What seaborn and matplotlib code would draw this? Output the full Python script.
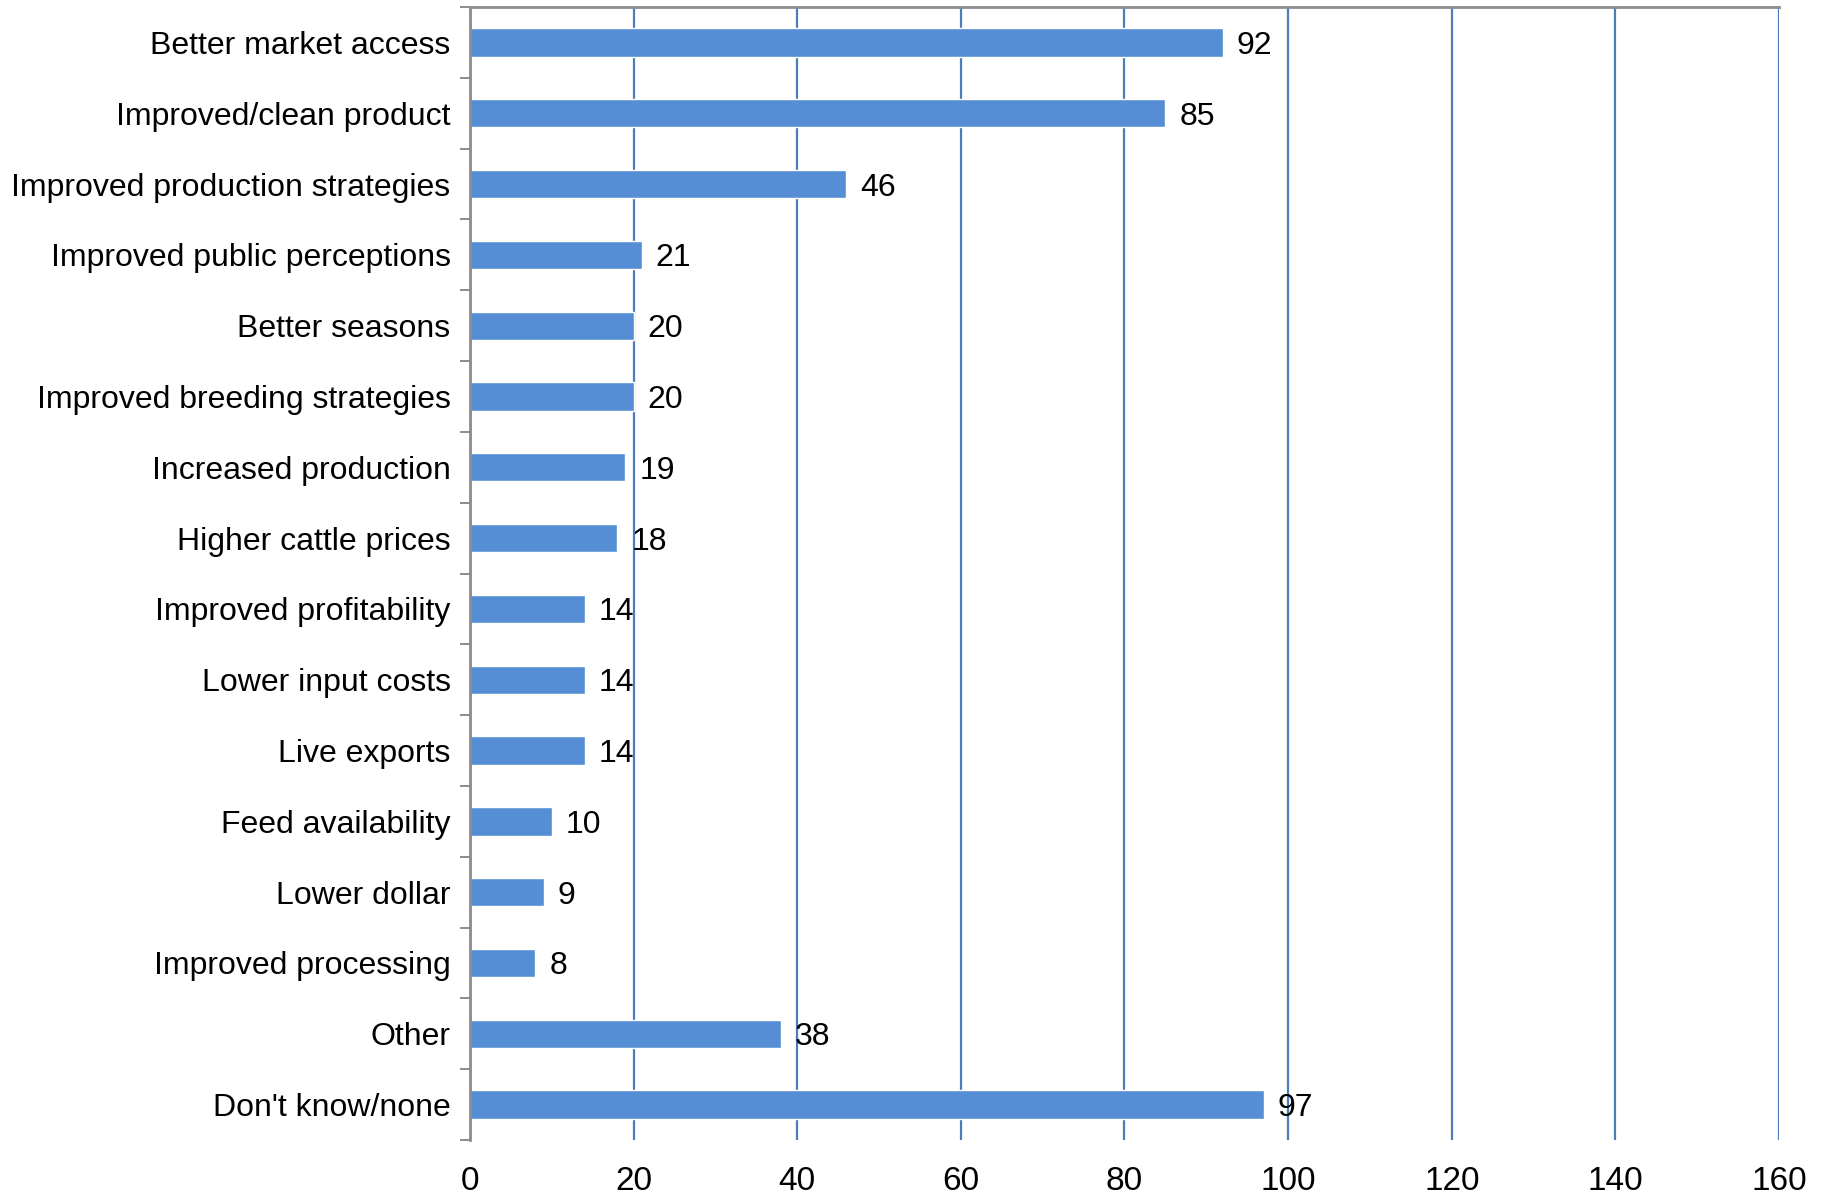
import matplotlib
matplotlib.use("Agg")
import matplotlib.pyplot as plt
import seaborn as sns
import pandas as pd
import numpy as np

categories = [
    "Better market access",
    "Improved/clean product",
    "Improved production strategies",
    "Improved public perceptions",
    "Better seasons",
    "Improved breeding strategies",
    "Increased production",
    "Higher cattle prices",
    "Improved profitability",
    "Lower input costs",
    "Live exports",
    "Feed availability",
    "Lower dollar",
    "Improved processing",
    "Other",
    "Don't know/none",
]
counts = [92, 85, 46, 21, 20, 20, 19, 18, 14, 14, 14, 10, 9, 8, 38, 97]
x_ticks = [0, 20, 40, 60, 80, 100, 120, 140, 160]

df = pd.DataFrame({"category": categories, "count": counts})

sns.set_style("white")
plt.rcParams["font.family"] = ["Liberation Sans", "DejaVu Sans"]

bar_color = "#558ED5"
grid_color = "#4A7EBB"
axis_gray = "#8C8C8C"

fig = plt.figure(figsize=(18.28, 11.97), dpi=100)
ax = fig.add_axes([0.2571, 0.0476, 0.9732 - 0.2571, 0.99415 - 0.0476])

sns.barplot(data=df, y="category", x="count", orient="h", color=bar_color,
            width=0.4, saturation=1, ax=ax, zorder=3)

ax.set_xlim(0, 160)
ax.set_ylim(len(categories) - 0.5, -0.5)
ax.set_xticks(x_ticks)
ax.set_xticklabels([str(t) for t in x_ticks])
ax.xaxis.grid(True, color=grid_color, linewidth=1.6, zorder=0)
ax.yaxis.grid(False)
ax.set_axisbelow(True)

# category boundary ticks on the left axis
ax.set_yticks(np.arange(-0.5, len(categories) + 0.5, 1), minor=True)
ax.tick_params(axis="y", which="major", length=0, pad=14, labelsize=23, colors="black")
ax.tick_params(axis="y", which="minor", length=7.5, width=1.4, color=axis_gray, left=True)
ax.tick_params(axis="x", which="major", length=0, pad=19, labelsize=24, colors="black")

for side in ["right", "bottom"]:
    ax.spines[side].set_visible(False)
ax.spines["left"].set_color(axis_gray)
ax.spines["left"].set_linewidth(2)
ax.spines["left"].set_zorder(5)
ax.spines["top"].set_color(axis_gray)
ax.spines["top"].set_linewidth(2)
ax.spines["top"].set_visible(True)

ax.set_xlabel("")
ax.set_ylabel("")

for container in ax.containers:
    texts = ax.bar_label(container, labels=[str(v) for v in counts], padding=10,
                         fontsize=23, color="black")
    for t in texts:
        t.set_va("center_baseline")

fig.savefig("out.png", dpi=100, facecolor="white")
